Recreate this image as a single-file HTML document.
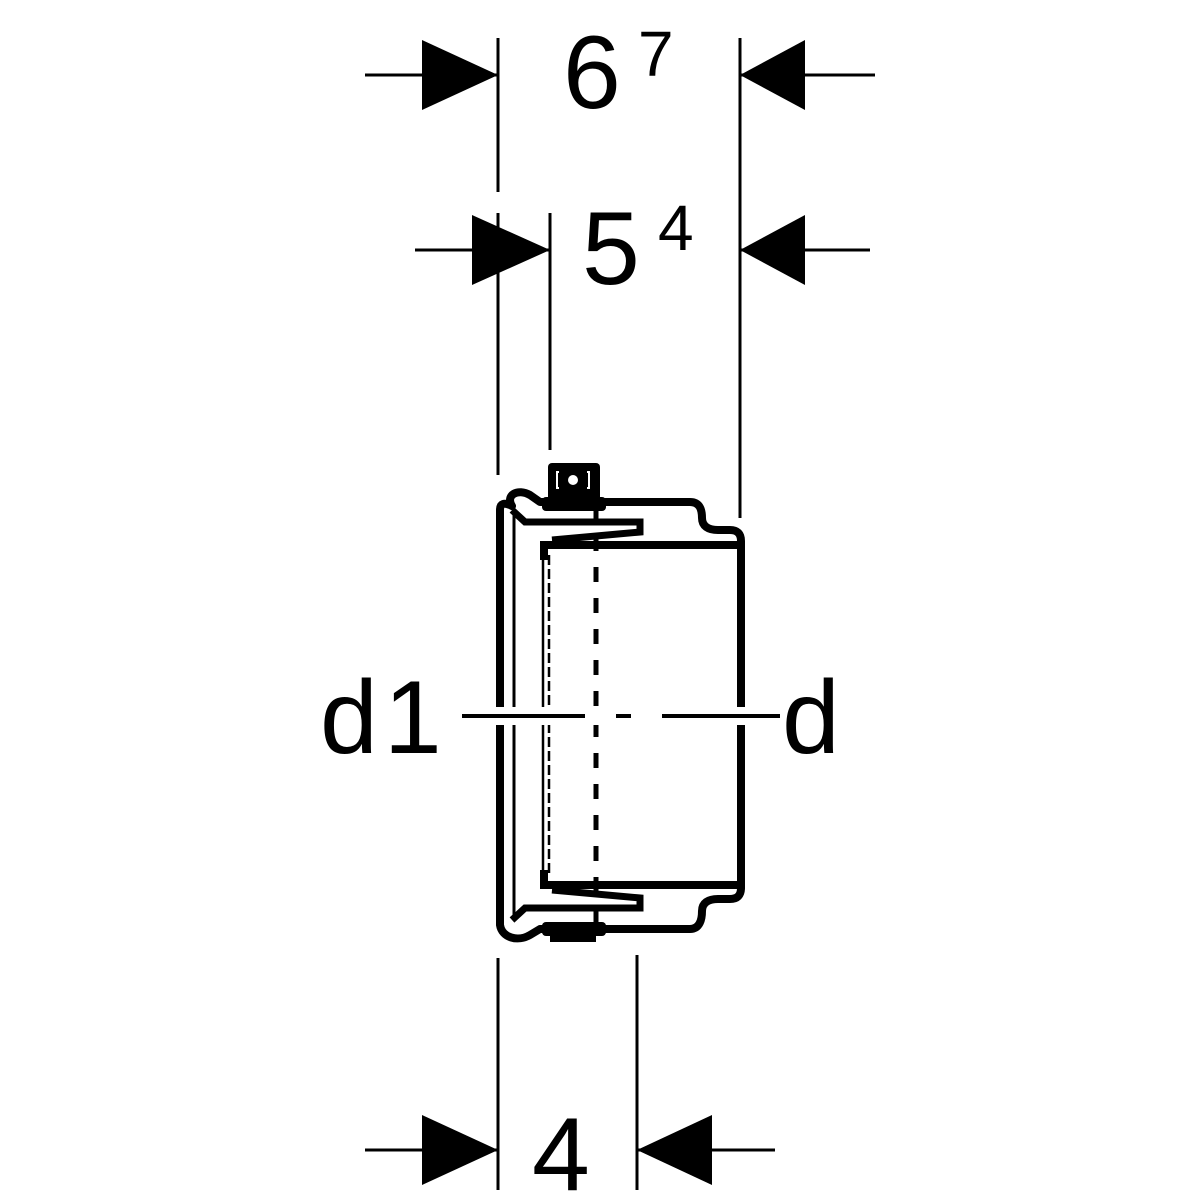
<!DOCTYPE html>
<html><head><style>body{margin:0;background:#fff}svg{display:block}</style></head><body>
<svg width="1200" height="1200" viewBox="0 0 1200 1200" xmlns="http://www.w3.org/2000/svg">
<g stroke="#000" fill="none">
<line x1="498" y1="38" x2="498" y2="192" stroke-width="3"/>
<line x1="740" y1="38" x2="740" y2="518" stroke-width="3"/>
<line x1="498" y1="213" x2="498" y2="475" stroke-width="3"/>
<line x1="550" y1="213" x2="550" y2="450" stroke-width="3"/>
<line x1="498" y1="958" x2="498" y2="1190" stroke-width="3"/>
<line x1="637" y1="955" x2="637" y2="1190" stroke-width="3"/>
<line x1="365" y1="75" x2="498" y2="75" stroke-width="3"/>
<line x1="740" y1="75" x2="875" y2="75" stroke-width="3"/>
<line x1="415" y1="250" x2="550" y2="250" stroke-width="3"/>
<line x1="740" y1="250" x2="870" y2="250" stroke-width="3"/>
<line x1="365" y1="1150" x2="498" y2="1150" stroke-width="3"/>
<line x1="637" y1="1150" x2="775" y2="1150" stroke-width="3"/>
<path d="M512 506 C505 495 518 488 530 495 L540 502 L690 502 C700 502 702 510 702 518 C702 526 708 530 718 530 L730 530 Q741 530 741 541 L741 888 Q741 899 730 899 L718 899 C708 899 702 903 702 911 C702 919 700 929 690 929 L540 929 L530 935 C518 942 502 938 500 925 L500 510 Q500 500 512 506 Z" stroke-width="8" stroke-linejoin="round"/>
<line x1="514" y1="515" x2="514" y2="915" stroke-width="3"/>
<path d="M512 510 L525 522 L640 522 L640 532 L552 540" stroke-width="7"/>
<path d="M512 920 L525 908 L640 908 L640 898 L552 890" stroke-width="7"/>
<path d="M544 560 L544 545 L741 545" stroke-width="8"/>
<path d="M544 870 L544 885 L741 885" stroke-width="8"/>
<line x1="543" y1="555" x2="543" y2="875" stroke-width="2.5"/>
<line x1="549" y1="555" x2="549" y2="875" stroke-width="2.5" stroke-dasharray="10 4"/>
<line x1="596" y1="505" x2="596" y2="930" stroke-width="5" stroke-dasharray="15 16"/>
</g>
<rect x="490" y="707" width="260" height="18" fill="#fff"/>
<g stroke="#000" stroke-width="4">
<line x1="462" y1="716" x2="585" y2="716"/>
<line x1="616" y1="716" x2="631" y2="716"/>
<line x1="662" y1="716" x2="780" y2="716"/>
</g>
<rect x="548" y="463" width="52" height="42" rx="4" fill="#000"/>
<rect x="542" y="497" width="64" height="14" rx="4" fill="#000"/>
<circle cx="573" cy="480" r="5" fill="#fff"/>
<path d="M559 472 L557 472 L557 488 L559 488 M587 472 L589 472 L589 488 L587 488" stroke="#fff" stroke-width="2" fill="none"/>
<rect x="542" y="922" width="64" height="14" rx="4" fill="#000"/>
<rect x="550" y="928" width="46" height="14" fill="#000"/>
<g fill="#000">
<polygon points="498,75 422,40 422,110"/>
<polygon points="740,75 805,40 805,110"/>
<polygon points="550,250 472,215 472,285"/>
<polygon points="740,250 805,215 805,285"/>
<polygon points="498,1150 422,1115 422,1185"/>
<polygon points="637,1150 712,1115 712,1185"/>
</g>
<g font-family="Liberation Sans, sans-serif" fill="#000">
<text x="563" y="108" font-size="104">6</text>
<text x="638" y="76" font-size="64">7</text>
<text x="582" y="284" font-size="104">5</text>
<text x="658" y="250" font-size="64">4</text>
<text x="532" y="1190" font-size="104">4</text>
<text x="320" y="753" font-size="104" letter-spacing="6">d1</text>
<text x="782" y="753" font-size="104">d</text>
</g>
</svg>
</body></html>
